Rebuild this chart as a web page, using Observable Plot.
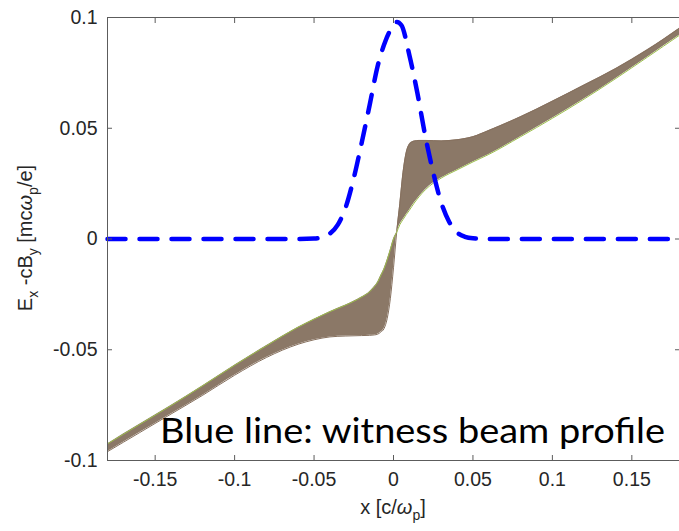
<!DOCTYPE html>
<html><head><meta charset="utf-8">
<script src="https://cdn.jsdelivr.net/npm/d3@7"></script>
<script src="https://cdn.jsdelivr.net/npm/@observablehq/plot@0.6"></script>
<style>body{margin:0;background:#fff} svg{display:block}</style>
</head><body><div id="chart"></div>
<script>
// Field curves (envelope of the family of E_x - cB_y curves)
const xField = [-0.18,-0.16,-0.14,-0.12,-0.10,-0.08,-0.06,-0.05,-0.04,-0.03,-0.02,-0.015,-0.012,-0.010,-0.008,-0.006,-0.004,-0.002,0,0.002,0.004,0.006,0.008,0.010,0.013,0.016,0.02,0.03,0.04,0.05,0.06,0.08,0.10,0.12,0.14,0.16,0.18];
const steepField = [-0.096,-0.0875,-0.079,-0.0705,-0.0615,-0.0535,-0.0475,-0.0455,-0.0442,-0.0438,-0.0436,-0.0435,-0.0433,-0.043,-0.042,-0.0405,-0.036,-0.027,-0.013,0.003,0.016,0.030,0.039,0.0428,0.0442,0.0445,0.0445,0.0443,0.0448,0.0462,0.049,0.0552,0.0622,0.0695,0.077,0.0855,0.0952];
const smoothField = [-0.0925,-0.0838,-0.0752,-0.0662,-0.057,-0.0482,-0.0398,-0.0362,-0.0328,-0.0298,-0.0262,-0.0238,-0.0215,-0.0195,-0.0165,-0.0135,-0.0095,-0.0048,0,0.003,0.0065,0.0088,0.011,0.013,0.0162,0.019,0.0222,0.0275,0.0312,0.0348,0.0382,0.0462,0.0545,0.0632,0.0725,0.0822,0.092];
// Witness beam profile (blue dashed)
const xBeam = [-0.18,-0.06,-0.05,-0.045,-0.04,-0.035,-0.03,-0.025,-0.02,-0.015,-0.01,-0.005,0,0.002,0.005,0.01,0.015,0.02,0.025,0.03,0.035,0.04,0.045,0.05,0.06,0.18];
const beamProfile = [0,0,0.0002,0.0008,0.0025,0.0065,0.0145,0.0275,0.0435,0.0605,0.078,0.0895,0.0965,0.098,0.0965,0.083,0.066,0.0465,0.030,0.0165,0.0078,0.003,0.001,0.0003,0,0];
// Ticks
const xTicks = [-0.15,-0.1,-0.05,0,0.05,0.1,0.15];
const xTickLabels = ["-0.15","-0.1","-0.05","0","0.05","0.1","0.15"];
const yTicks = [-0.1,-0.05,0,0.05,0.1];
const yTickLabels = ["-0.1","-0.05","0","0.05","0.1"];

const field = xField.map((x,i)=>({x, steep: steepField[i], smooth: smoothField[i]}));
const beam = xBeam.map((x,i)=>({x, y: beamProfile[i]}));
const axisColor = "#5c5c5c";

const chart = Plot.plot({
  width: 679, height: 531,
  marginLeft: 107, marginRight: 0, marginTop: 17, marginBottom: 71,
  style: {fontFamily: "'Liberation Sans', Arial, sans-serif", fontSize: "19.5px", color: "#262626", background: "#fff"},
  x: {domain: [-0.18, 0.18], label: null},
  y: {domain: [-0.1, 0.1], label: null},
  marks: [
    Plot.areaY(field, {x: "x", y1: "steep", y2: "smooth", fill: "#8b7867", curve: "monotone-x"}),
    Plot.line(field, {x: "x", y: "steep", stroke: "#86705e", strokeWidth: 1, curve: "monotone-x"}),
    Plot.line(field, {x: "x", y: "smooth", stroke: "#9cbf4c", strokeWidth: 1, curve: "monotone-x"}),
    Plot.line(beam, {x: "x", y: "y", stroke: "#0000ff", strokeWidth: 4.5, strokeDasharray: "18,14", curve: "monotone-x"}),
    Plot.frame({stroke: axisColor}),
    Plot.axisX(xTicks, {anchor: "bottom", tickSize: -5, stroke: axisColor, tickFormat: () => ""}),
    Plot.axisX(xTicks, {anchor: "top", tickSize: -5, stroke: axisColor, tickFormat: () => ""}),
    Plot.axisY(yTicks, {anchor: "left", tickSize: -5, stroke: axisColor, tickFormat: () => ""}),
    Plot.axisY(yTicks, {anchor: "right", tickSize: -5, stroke: axisColor, tickFormat: () => ""}),
    Plot.axisX(xTicks, {anchor: "bottom", tickSize: 0, tickPadding: 12, tickFormat: d => xTickLabels[xTicks.indexOf(d)], fill: "#262626"}),
    Plot.axisY(yTicks, {anchor: "left", tickSize: 0, tickPadding: 10, tickFormat: d => yTickLabels[yTicks.indexOf(d)], fill: "#262626"})
  ]
});
document.getElementById("chart").appendChild(chart);

const svg = d3.select(chart);
// x-axis label
const xl = svg.append("text").attr("x", 393).attr("y", 514).attr("text-anchor", "middle")
  .attr("fill", "#262626").style("font-size", "20px");
xl.append("tspan").text("x [c/");
xl.append("tspan").style("font-style", "italic").text("ω");
xl.append("tspan").attr("dy", 6).style("font-size", "14px").text("p");
xl.append("tspan").attr("dy", -6).text("]");

// y-axis label
const yl = svg.append("text").attr("transform", "translate(32,238) rotate(-90)").attr("text-anchor", "middle")
  .attr("fill", "#262626").style("font-size", "20px");
yl.append("tspan").text("E");
yl.append("tspan").attr("dy", 6).style("font-size", "14px").text("x");
yl.append("tspan").attr("dy", -6).text(" -cB");
yl.append("tspan").attr("dy", 6).style("font-size", "14px").text("y");
yl.append("tspan").attr("dy", -6).text(" [mc");
yl.append("tspan").style("font-style", "italic").text("ω");
yl.append("tspan").attr("dy", 6).style("font-size", "14px").text("p");
yl.append("tspan").attr("dy", -6).text("/e]");

// annotation
svg.append("text").attr("x", 160).attr("y", 443).attr("text-anchor", "start")
  .attr("fill", "#000").style("font-family", "Lato, 'Open Sans', sans-serif").style("font-size", "35px")
  .attr("textLength", 505).attr("lengthAdjust", "spacingAndGlyphs")
  .text("Blue line: witness beam profile");
</script>
</body></html>
